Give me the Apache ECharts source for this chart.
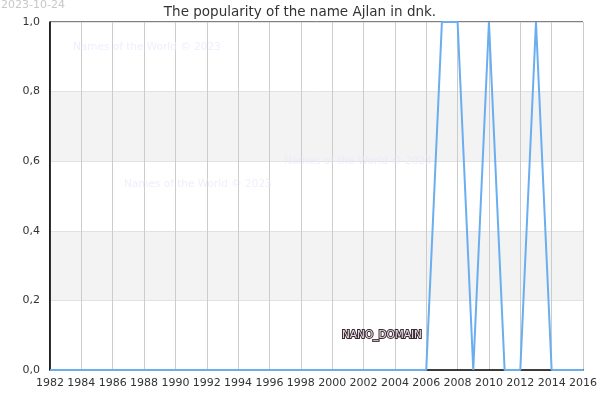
<!DOCTYPE html>
<html><head><meta charset="utf-8">
<script src="https://cdn.jsdelivr.net/npm/echarts@6/dist/echarts.min.js"></script>
<style>html,body{margin:0;padding:0;background:#fff}#c{width:600px;height:400px}</style>
</head><body><div id="c"></div>
<script>
const years = [1982,1983,1984,1985,1986,1987,1988,1989,1990,1991,1992,1993,1994,1995,1996,1997,1998,1999,2000,2001,2002,2003,2004,2005,2006,2007,2008,2009,2010,2011,2012,2013,2014,2015,2016];
const values = [0,0,0,0,0,0,0,0,0,0,0,0,0,0,0,0,0,0,0,0,0,0,0,0,0,1,1,0,1,0,0,1,0,0,0];
const titleText = 'The popularity of the name Ajlan in dnk.';
const dateText = '2023-10-24';
const watermark = 'Names of the World © 2023';
const chart = echarts.init(document.getElementById('c'));
const F = 'DejaVu Sans';
chart.setOption({
  animation: false,
  title: {text: titleText, left: 'center', top: 0, textStyle: {fontFamily: F, fontSize: 13.5, fontWeight: 'normal', color: '#333'}},
  grid: {left: 50, right: 15, top: 22, bottom: 30, show: true, borderColor: '#000', borderWidth: 1, backgroundColor: 'transparent'},
  xAxis: {type: 'value', min: 1982, max: 2016, interval: 2,
    axisLine: {show: true, lineStyle: {color: '#000', width: 1.5}},
    axisTick: {show: false},
    axisLabel: {fontFamily: F, fontSize: 11, color: '#333', margin: 8, formatter: v => String(v)},
    splitLine: {show: true, lineStyle: {color: '#ccc', width: 1}}},
  yAxis: {type: 'value', min: 0, max: 1, interval: 0.2,
    axisLine: {show: true, lineStyle: {color: '#000', width: 1.5}},
    axisTick: {show: false},
    axisLabel: {fontFamily: F, fontSize: 11, color: '#333', margin: 10, formatter: v => v.toFixed(1).replace('.', ',')},
    splitLine: {show: true, lineStyle: {color: '#e2e2e2', width: 1}},
    splitArea: {show: true, areaStyle: {color: ['#ffffff', '#f3f3f3']}}},
  series: [{type: 'line', data: years.map((y, i) => [y, values[i]]), showSymbol: false, symbol: 'none',
    clip: false, lineStyle: {color: '#6aaef0', width: 2}, z: 5}],
  graphic: [
    {type: 'text', left: 1, top: 0, style: {text: dateText, fontFamily: F, fontSize: 11, fill: '#c8c8c8'}},
    {type: 'text', left: 73, top: 42, style: {text: watermark, fontFamily: F, fontSize: 10.5, fill: 'rgba(232,232,252,0.7)'}, z: 10},
    {type: 'text', left: 124, top: 179, style: {text: watermark, fontFamily: F, fontSize: 10.5, fill: 'rgba(232,232,252,0.7)'}, z: 10},
    {type: 'text', left: 284, top: 156, style: {text: watermark, fontFamily: F, fontSize: 10.5, fill: 'rgba(232,232,252,0.7)'}, z: 10},
    {type: 'text', left: 341, top: 329, style: {text: 'NANO_DOMAIN', fontFamily: F, fontSize: 10.5, fill: '#e8dce4', stroke: '#3a2a32', lineWidth: 2}, z: 10}
  ]
});
</script></body></html>
